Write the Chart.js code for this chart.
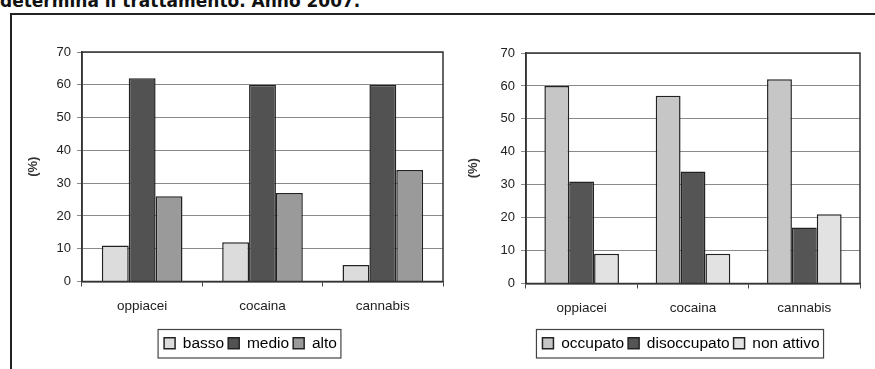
<!DOCTYPE html>
<html>
<head>
<meta charset="utf-8">
<script src="https://cdn.jsdelivr.net/npm/chart.js@4/dist/chart.umd.min.js"></script>
<style>
  html, body { margin: 0; padding: 0; background: #fff; }
  body { width: 875px; height: 369px; position: relative; overflow: hidden; }
  #title { position: absolute; left: 0; top: -9px; font: bold 17px "DejaVu Sans", Verdana, sans-serif; color: #111; white-space: nowrap; }
  #frame { position: absolute; left: 10px; top: 13px; width: 870px; height: 370px; border-top: 2px solid #222; border-left: 2px solid #222; }
  .box { position: absolute; top: 16px; height: 353px; }
  #leftBox { left: 12px; width: 440px; }
  #rightBox { left: 452px; width: 423px; }
</style>
</head>
<body>
<div id="title">determina il trattamento. Anno 2007.</div>
<div id="frame"></div>
<div class="box" id="leftBox"><canvas id="leftChart"></canvas></div>
<div class="box" id="rightBox"><canvas id="rightChart"></canvas></div>
<script>
// data
const categories = ["oppiacei", "cocaina", "cannabis"];
const basso = [11, 12, 5];
const medio = [62, 60, 60];
const alto = [26, 27, 34];
const occupato = [60, 57, 62];
const disoccupato = [31, 34, 17];
const nonAttivo = [9, 9, 21];
const yMax = 70;
const yStep = 10;

Chart.defaults.font.family = "'Liberation Sans', Arial, sans-serif";
Chart.defaults.color = "#222";
Chart.defaults.animation = false;

// outline of the plot area and a box round the legend
const framePlugin = {
  id: "frames",
  afterLayout(chart) {
    // legend sits a little left of the plot centre, as in the original
    const lg = chart.legend;
    const a = chart.chartArea;
    const dx = (a.left + a.right) / 2 - 12 - (lg.left + lg.right) / 2;
    lg.left += dx;
    lg.right += dx;
  },
  afterDraw(chart) {
    const c = chart.ctx;
    const a = chart.chartArea;
    c.save();
    c.strokeStyle = "#333";
    c.lineWidth = 1.5;
    c.strokeRect(a.left, a.top, a.right - a.left, a.bottom - a.top);
    const boxes = chart.legend.legendHitBoxes;
    if (boxes && boxes.length) {
      let l = Infinity, r = -Infinity, t = Infinity, b = -Infinity;
      boxes.forEach(h => {
        l = Math.min(l, h.left); r = Math.max(r, h.left + h.width);
        t = Math.min(t, h.top); b = Math.max(b, h.top + h.height);
      });
      c.lineWidth = 1.2;
      c.strokeStyle = "#444";
      c.strokeRect(l - 6, t - 6, r - l + 10, b - t + 13);
    }
    c.restore();
  }
};

function makeChart(id, sets, plotLeft, padRight, padTop, axisHeight) {
  return new Chart(document.getElementById(id), {
    type: "bar",
    data: {
      labels: categories,
      datasets: sets.map(s => ({
        label: s.label,
        data: s.data,
        backgroundColor: s.color,
        borderColor: "#222",
        borderWidth: 1.5,
        categoryPercentage: 0.67,
        barPercentage: 1.0
      }))
    },
    options: {
      responsive: true,
      maintainAspectRatio: false,
      layout: { padding: { top: padTop, right: padRight, bottom: 8, left: 0 } },
      plugins: {
        tooltip: { enabled: false },
        legend: {
          position: "bottom",
          labels: {
            boxWidth: 11,
            boxHeight: 11,
            padding: 4,
            font: { size: 15.5 },
            color: "#222",
            generateLabels(chart) {
              return chart.data.datasets.map((d, i) => ({
                text: d.label,
                fillStyle: d.backgroundColor,
                strokeStyle: "#222",
                lineWidth: 1.5,
                datasetIndex: i
              }));
            }
          }
        }
      },
      scales: {
        x: {
          grid: { offset: true, drawOnChartArea: false, tickLength: 5, color: "#444" },
          border: { color: "#333", width: 1.5 },
          ticks: { font: { size: 13.5 }, padding: 12, color: "#222" },
          afterFit(scale) { scale.height = axisHeight; }
        },
        y: {
          min: 0,
          max: yMax,
          ticks: { stepSize: yStep, font: { size: 13 }, padding: 6, color: "#222" },
          grid: { color: "#8a8a8a", lineWidth: 1, tickLength: 5 },
          border: { color: "#333", width: 1.5 },
          title: { display: true, text: "(%)", font: { size: 13, weight: "bold" }, color: "#333", padding: { top: 14, bottom: 0 } },
          afterFit(scale) { scale.width = plotLeft; }
        }
      }
    },
    plugins: [framePlugin]
  });
}

makeChart("leftChart", [
  { label: "basso", data: basso, color: "#dcdcdc" },
  { label: "medio", data: medio, color: "#525252" },
  { label: "alto", data: alto, color: "#9a9a9a" }
], 70, 9, 36, 50);

makeChart("rightChart", [
  { label: "occupato", data: occupato, color: "#c6c6c6" },
  { label: "disoccupato", data: disoccupato, color: "#555555" },
  { label: "non attivo", data: nonAttivo, color: "#e2e2e2" }
], 74, 15, 37, 48);
</script>
</body>
</html>
